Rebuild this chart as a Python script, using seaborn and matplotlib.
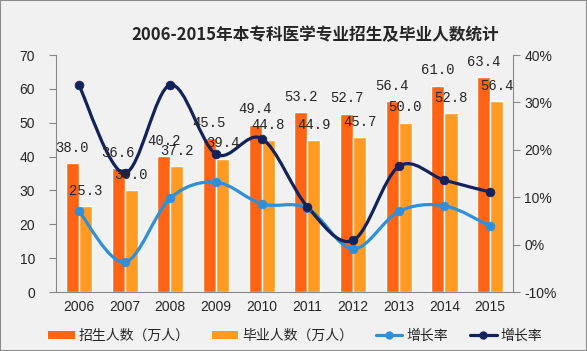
import numpy as np
import pandas as pd
import matplotlib
matplotlib.use("Agg")
import matplotlib.pyplot as plt
import seaborn as sns
from matplotlib.path import Path
from matplotlib.patches import PathPatch, Patch, Rectangle
from matplotlib.lines import Line2D

years = ["2006", "2007", "2008", "2009", "2010", "2011", "2012", "2013", "2014", "2015"]
enroll = [38.0, 36.6, 40.2, 45.5, 49.4, 53.2, 52.7, 56.4, 61.0, 63.4]
grad = [25.3, 30.0, 37.2, 39.4, 44.8, 44.9, 45.7, 50.0, 52.8, 56.4]
growth_light = [7.1, -3.7, 9.8, 13.2, 8.6, 7.7, -0.9, 7.0, 8.2, 3.9]
growth_dark = [33.7, 15.1, 33.7, 19.1, 22.4, 8.0, 0.9, 16.5, 13.6, 11.1]

left_ticks = [0, 10, 20, 30, 40, 50, 60, 70]
right_ticks = [-10, 0, 10, 20, 30, 40]

enroll_name = "招生人数（万人）"
grad_name = "毕业人数（万人）"
rate_name = "增长率"

c_enroll = "#FF6414"
c_grad = "#FF9B22"
c_light = "#2F8FD8"
c_dark = "#13225A"

sns.set_style("white")
plt.rcParams["font.family"] = ["Noto Sans CJK SC", "DejaVu Sans"]

df = pd.DataFrame({
    "year": years * 2,
    "value": enroll + grad,
    "series": [enroll_name] * len(years) + [grad_name] * len(years),
})


def smooth_path(xs, ys):
    # Bezier curve through the points (Excel-style smoothed line)
    pts = np.column_stack([xs, ys]).astype(float)
    n = len(pts)
    verts = [pts[0]]
    codes = [Path.MOVETO]
    for i in range(n - 1):
        p0 = pts[max(i - 1, 0)]
        p1 = pts[i]
        p2 = pts[i + 1]
        p3 = pts[min(i + 2, n - 1)]
        verts += [p1 + (p2 - p0) / 6, p2 - (p3 - p1) / 6, p2]
        codes += [Path.CURVE4] * 3
    return Path(verts, codes)


fig = plt.figure(figsize=(5.87, 3.51), dpi=100, facecolor="#F1F1F1")
ax = fig.add_axes([0.0954, 0.168, 0.874 - 0.0954, 0.843 - 0.168])
ax.set_facecolor("none")

bw = 0.57
sns.barplot(data=df, x="year", y="value", hue="series", ax=ax,
            palette=[c_enroll, c_grad], width=bw, gap=0, saturation=1,
            legend=False)
ax.set_xlim(-0.5, len(years) - 0.5)
ax.set_ylim(0, 70)
ax.set_yticks(left_ticks)
ax.set_xlabel("")
ax.set_ylabel("")
ax.set_xticks(np.arange(len(years)))
ax.set_xticklabels(years, fontsize=10, family="Liberation Sans")
ax.set_xticks(np.arange(len(years) + 1) - 0.5, minor=True)
ax.tick_params(axis="x", which="major", length=0, pad=6)
ax.tick_params(axis="x", which="minor", length=4, color="#888888", direction="inout")
ax.tick_params(axis="y", length=5, color="#888888", labelsize=10, pad=10)
for lab in ax.get_yticklabels():
    lab.set_family("Liberation Sans")
for s in ["top", "right"]:
    ax.spines[s].set_visible(False)
for s in ["left", "bottom"]:
    ax.spines[s].set_color("#888888")

ax2 = ax.twinx()
ax2.set_ylim(-10, 40)
ax2.set_yticks(right_ticks)
ax2.set_yticklabels([f"{t}%" for t in right_ticks], fontsize=10, family="Liberation Sans")
ax2.tick_params(axis="y", length=5, color="#888888", pad=3)
for s in ["top", "left", "bottom"]:
    ax2.spines[s].set_visible(False)
ax2.spines["right"].set_color("#888888")

xpos = np.arange(len(years))
for vals, col in [(growth_light, c_light), (growth_dark, c_dark)]:
    ax2.add_patch(PathPatch(smooth_path(xpos, vals), facecolor="none",
                            edgecolor=col, lw=2.3, capstyle="round", zorder=3))
    sns.scatterplot(x=xpos, y=vals, ax=ax2, color=col, s=40,
                    edgecolor=col, linewidth=0.5, zorder=4, legend=False)

for i in range(len(years)):
    ax2.annotate(f"{enroll[i]:.1f}", xy=(i - bw / 4, enroll[i]), xycoords=ax.transData,
                 xytext=(0, 6), textcoords="offset points", ha="center", va="bottom",
                 fontsize=10, family="Liberation Mono", zorder=6)
    ax2.annotate(f"{grad[i]:.1f}", xy=(i + bw / 4, grad[i]), xycoords=ax.transData,
                 xytext=(0, 6), textcoords="offset points", ha="center", va="bottom",
                 fontsize=10, family="Liberation Mono", zorder=6)

fig.text(0.537, 0.90, "2006-2015年本专科医学专业招生及毕业人数统计",
         ha="center", va="center", fontsize=12, fontweight="bold")

handles = [
    Patch(facecolor=c_enroll, edgecolor="none"),
    Patch(facecolor=c_grad, edgecolor="none"),
    Line2D([], [], color=c_light, lw=2.3, marker="o", markersize=5),
    Line2D([], [], color=c_dark, lw=2.3, marker="o", markersize=5),
]
fig.legend(handles, [enroll_name, grad_name, rate_name, rate_name],
           loc="center", bbox_to_anchor=(0.503, 0.043), ncol=4, frameon=False,
           fontsize=10, handlelength=1.9, handleheight=0.6, handletextpad=0.3,
           columnspacing=1.6, borderaxespad=0)

fig.patches.append(Rectangle((0, 0), 1, 1, transform=fig.transFigure,
                             facecolor="none", edgecolor="#8C8C8C", lw=1.5))

fig.savefig("out.png", dpi=100, facecolor=fig.get_facecolor())
